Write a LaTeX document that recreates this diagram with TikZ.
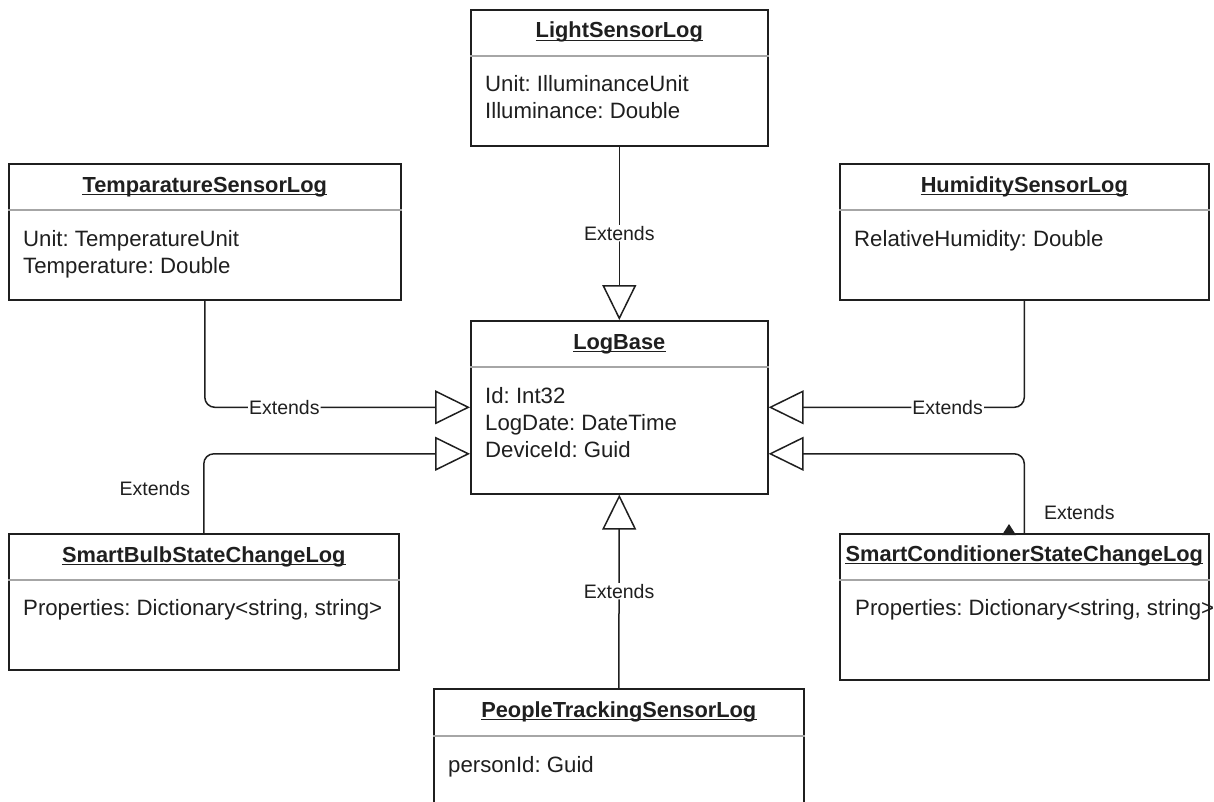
\documentclass[tikz,border=0pt]{standalone}
\usepackage{fontspec}
\setmainfont{Liberation Sans}
\usetikzlibrary{arrows.meta}
\frenchspacing
\begin{document}
\begin{tikzpicture}[x=1bp,y=-1bp,
  classbox/.style={draw=black!88, line width=1.6bp, inner sep=0pt, anchor=north west, fill=white},
  divider/.style={draw=black!35, line width=1.5bp},
  classtitle/.style={font=\fontsize{21.8bp}{26bp}\selectfont\bfseries, text=black!88, inner sep=0pt, anchor=base},
  attr/.style={font=\fontsize{22.2bp}{26bp}\selectfont, text=black!88, inner sep=0pt, anchor=base west},
  titleline/.style={line width=1.3bp, draw=black!88},
  ext/.style={draw=black!88, line width=1.5bp, rounded corners=10bp, -{Triangle[open, length=35bp, width=34bp]}},
  extlabel/.style={font=\fontsize{19.5bp}{23bp}\selectfont, text=black!88, fill=white, inner sep=1bp},
  sidelabel/.style={font=\fontsize{19.5bp}{23bp}\selectfont, text=black!88, inner sep=1bp},
]
\useasboundingbox (0,0) rectangle (1214,802);

% ---------- LightSensorLog ----------
\node[classbox, minimum width=297bp, minimum height=136bp] (light) at (470,9) {};
\draw[divider] (light.west |- 0,56) -- (light.east |- 0,56);
\node[classtitle] (light-t) at (light.north |- 0,38) {LightSensorLog};
\node[attr] (light-a1) at (485,92) {Unit: IlluminanceUnit};
\node[attr] (light-a2) at (485,119) {Illuminance: Double};

% ---------- TemparatureSensorLog ----------
\node[classbox, minimum width=392bp, minimum height=136bp] (temp) at (8,163) {};
\draw[divider] (temp.west |- 0,210) -- (temp.east |- 0,210);
\node[classtitle] (temp-t) at (temp.north |- 0,192) {TemparatureSensorLog};
\node[attr] (temp-a1) at (23,246) {Unit: TemperatureUnit};
\node[attr] (temp-a2) at (23,273) {Temperature: Double};

% ---------- HumiditySensorLog ----------
\node[classbox, minimum width=369bp, minimum height=136bp] (humid) at (839,163) {};
\draw[divider] (humid.west |- 0,210) -- (humid.east |- 0,210);
\node[classtitle] (humid-t) at (humid.north |- 0,192) {HumiditySensorLog};
\node[attr] (humid-a1) at (854,246) {RelativeHumidity: Double};

% ---------- LogBase ----------
\node[classbox, minimum width=297bp, minimum height=173bp] (base) at (470,320) {};
\draw[divider] (base.west |- 0,367) -- (base.east |- 0,367);
\node[classtitle] (base-t) at (base.north |- 0,349) {LogBase};
\node[attr] (base-a1) at (485,403) {Id: Int32};
\node[attr] (base-a2) at (485,430) {LogDate: DateTime};
\node[attr] (base-a3) at (485,457) {DeviceId: Guid};

% ---------- SmartBulbStateChangeLog ----------
\node[classbox, minimum width=390bp, minimum height=136bp] (bulb) at (8,533) {};
\draw[divider] (bulb.west |- 0,580) -- (bulb.east |- 0,580);
\node[classtitle] (bulb-t) at (bulb.north |- 0,562) {SmartBulbStateChangeLog};
\node[attr] (bulb-a1) at (23,615) {Properties: Dictionary<string, string>};

% ---------- SmartConditionerStateChangeLog ----------
\node[classbox, minimum width=369bp, minimum height=146bp] (cond) at (839,533) {};
\draw[divider] (cond.west |- 0,580) -- (cond.east |- 0,580);
\node[classtitle] (cond-t) at (cond.north |- 0,561) {SmartConditionerStateChangeLog};
\node[attr] (cond-a1) at (855,615) {Properties: Dictionary<string, string>};

% ---------- PeopleTrackingSensorLog ----------
\node[classbox, minimum width=370bp, minimum height=136bp] (people) at (433,688) {};
\draw[divider] (people.west |- 0,736) -- (people.east |- 0,736);
\node[classtitle] (people-t) at (people.north |- 0,717) {PeopleTrackingSensorLog};
\node[attr] (people-a1) at (448,772) {personId: Guid};

% underlined class names
\foreach \n in {light,temp,humid,base,bulb,cond,people}
  \draw[titleline] ([yshift=-2.5bp]\n-t.base west) -- ([yshift=-2.5bp]\n-t.base east);

% ---------- generalisation connectors ----------
\draw[ext] (light.south) -- node[extlabel]{Extends} (base.north);
\draw[ext] (people.north) -- node[extlabel]{Extends} (base.south);
\draw[ext] (temp.south) |- node[extlabel, pos=0.65]{Extends} (base.west);
\draw[ext] (humid.south) |- node[extlabel, pos=0.65]{Extends} (base.east);
\draw[ext] (bulb.north) |- node[sidelabel, pos=0.28, left=12bp]{Extends} ([yshift=-46.5bp]base.west);
\draw[ext] (cond.north) |- node[sidelabel, pos=0.13, right=18bp]{Extends} ([yshift=-46.5bp]base.east);

% small stray arrow mark on the conditioner box
\fill[black!88] (1002,535) -- (1009,524) -- (1016,535) -- cycle;
\end{tikzpicture}
\end{document}
